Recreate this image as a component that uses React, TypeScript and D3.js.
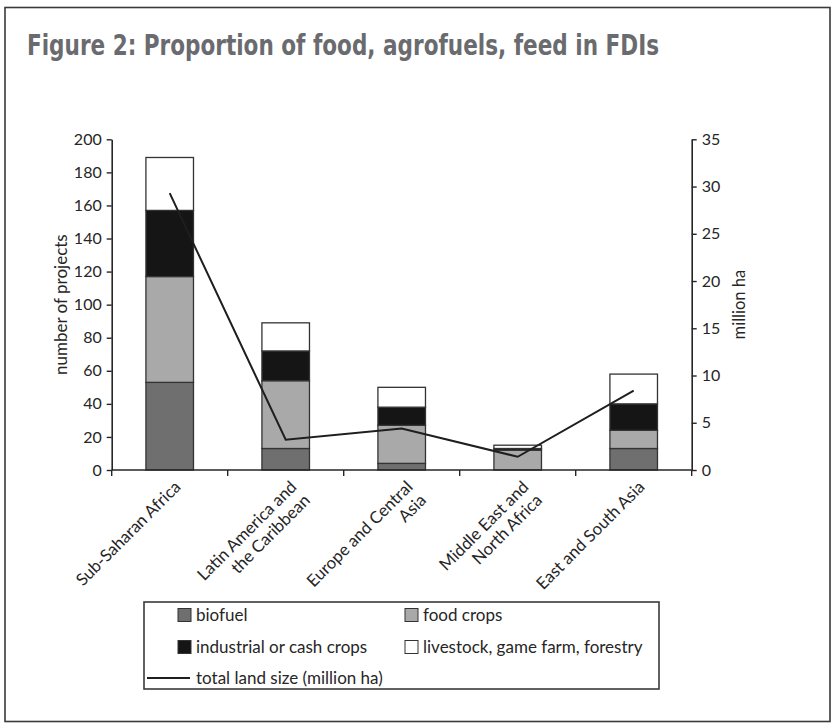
import React, { useEffect, useRef } from 'react';
import * as d3 from 'd3';

const categories = ['Sub-Saharan Africa', 'Latin America and the Caribbean', 'Europe and Central Asia', 'Middle East and North Africa', 'East and South Asia'];
const categoryLines = [['Sub-Saharan Africa'], ['Latin America and', 'the Caribbean'], ['Europe and Central', 'Asia'], ['Middle East and', 'North Africa'], ['East and South Asia']];

const biofuel = [53, 13, 4, 0, 13];
const foodCrops = [64, 41, 23, 12, 11];
const industrialCrops = [40, 18, 11, 1, 16];
const livestock = [32, 17, 12, 2, 18];
const landSize = [29.3, 3.2, 4.4, 1.4, 8.4];

const seriesKeys = ['biofuel', 'food', 'industrial', 'livestock'];
const seriesNames = ['biofuel', 'food crops', 'industrial or cash crops', 'livestock, game farm, forestry'];
const seriesColors = ['#6f6f6f', '#a9a9a9', '#151515', '#ffffff'];
const lineName = 'total land size (million ha)';

const leftTicks = [0, 20, 40, 60, 80, 100, 120, 140, 160, 180, 200];
const rightTicks = [0, 5, 10, 15, 20, 25, 30, 35];

const TITLE = 'Figure 2: Proportion of food, agrofuels, feed in FDIs';

const W = 831;
const H = 725;
const PLOT = { left: 111.7, top: 139.3, right: 691.7, bottom: 470 };
const FONT = "Lato, 'Open Sans', sans-serif";
const INK = '#262626';

const App = () => {
    const ref = useRef<SVGSVGElement>(null);

    useEffect(() => {
        plotChart();
    }, []);

    const plotChart = () => {
        const svg = d3.select(ref.current);
        svg.selectAll('*').remove();

        // page frame
        svg.append('rect')
            .attr('x', 5).attr('y', 7.5)
            .attr('width', 825).attr('height', 714)
            .attr('fill', '#fff')
            .attr('stroke', '#3a3a3a')
            .attr('stroke-width', 1.6);

        // title
        svg.append('text')
            .attr('x', 27).attr('y', 55)
            .attr('textLength', 632)
            .attr('lengthAdjust', 'spacingAndGlyphs')
            .style('font-family', "'Liberation Sans Narrow', 'DejaVu Sans Condensed', sans-serif")
            .style('font-weight', 'bold')
            .style('font-size', '29px')
            .attr('fill', '#6a6b6e')
            .text(TITLE);

        const table = categories.map((c, i) => ({
            category: c,
            biofuel: biofuel[i],
            food: foodCrops[i],
            industrial: industrialCrops[i],
            livestock: livestock[i],
        }));

        const x = d3.scaleBand()
            .domain(categories)
            .range([PLOT.left, PLOT.right])
            .paddingInner(0.59)
            .paddingOuter(0.295);

        const y = d3.scaleLinear().domain([0, 200]).range([PLOT.bottom, PLOT.top]);
        const y2 = d3.scaleLinear().domain([0, 35]).range([PLOT.bottom, PLOT.top]);

        const stacked = d3.stack<any>().keys(seriesKeys)(table);

        // bars
        const layers = svg.append('g')
            .selectAll('g')
            .data(stacked)
            .enter().append('g')
            .attr('fill', (d, i) => seriesColors[i]);

        layers.selectAll('rect')
            .data(d => d.filter(s => s[1] - s[0] > 0))
            .enter().append('rect')
            .attr('x', d => x(d.data.category)!)
            .attr('y', d => y(d[1]))
            .attr('width', x.bandwidth())
            .attr('height', d => y(d[0]) - y(d[1]))
            .attr('stroke', '#333')
            .attr('stroke-width', 1.3);

        // land size line
        const line = d3.line<number>()
            .x((d, i) => x(categories[i])! + x.bandwidth() / 2)
            .y(d => y2(d));

        svg.append('path')
            .datum(landSize)
            .attr('fill', 'none')
            .attr('stroke', '#1e1e1e')
            .attr('stroke-width', 2)
            .attr('d', line);

        // left axis
        const yAxis = d3.axisLeft(y).tickValues(leftTicks).tickSize(5).tickSizeOuter(0).tickPadding(5);
        const gl = svg.append('g')
            .attr('transform', `translate(${PLOT.left},0)`)
            .call(yAxis);

        // right axis
        const y2Axis = d3.axisRight(y2).tickValues(rightTicks).tickSize(5).tickSizeOuter(0).tickPadding(5);
        const gr = svg.append('g')
            .attr('transform', `translate(${PLOT.right},0)`)
            .call(y2Axis);

        [gl, gr].forEach(g => {
            g.attr('font-family', null).attr('font-size', null);
            g.select('.domain').attr('stroke', INK).attr('stroke-width', 1.6);
            g.selectAll('.tick line').attr('stroke', INK).attr('stroke-width', 1.4);
            g.selectAll('.tick text')
                .attr('fill', INK)
                .style('font-family', FONT)
                .style('font-size', '16px');
        });

        // category axis
        const boundaries = d3.range(categories.length + 1).map(i => PLOT.left + i * x.step());
        const gx = svg.append('g');
        gx.append('line')
            .attr('x1', PLOT.left).attr('x2', PLOT.right)
            .attr('y1', PLOT.bottom).attr('y2', PLOT.bottom)
            .attr('stroke', INK).attr('stroke-width', 1.6);
        gx.selectAll('.xtick')
            .data(boundaries)
            .enter().append('line')
            .attr('class', 'xtick')
            .attr('x1', d => d).attr('x2', d => d)
            .attr('y1', PLOT.bottom).attr('y2', PLOT.bottom + 6)
            .attr('stroke', INK).attr('stroke-width', 1.4);

        const labels = gx.selectAll('.xlabel')
            .data(categories)
            .enter().append('text')
            .attr('class', 'xlabel')
            .attr('transform', d => `translate(${x(d)! + x.bandwidth() / 2 + 12},${PLOT.bottom + 18}) rotate(-45)`)
            .attr('text-anchor', 'end')
            .attr('fill', INK)
            .style('font-family', FONT)
            .style('font-size', '16.8px');

        labels.each(function (d, i) {
            d3.select(this).selectAll('tspan')
                .data(categoryLines[i])
                .enter().append('tspan')
                .attr('x', 0)
                .attr('dy', (l, j) => (j === 0 ? 0 : 19))
                .text(l => l);
        });

        // axis titles
        svg.append('text')
            .attr('transform', `translate(67,${(PLOT.top + PLOT.bottom) / 2}) rotate(-90)`)
            .attr('text-anchor', 'middle')
            .attr('fill', INK)
            .style('font-family', FONT)
            .style('font-size', '17px')
            .text('number of projects');

        svg.append('text')
            .attr('transform', `translate(745,${(PLOT.top + PLOT.bottom) / 2}) rotate(-90)`)
            .attr('text-anchor', 'middle')
            .attr('fill', INK)
            .style('font-family', FONT)
            .style('font-size', '16.5px')
            .text('million ha');

        // legend
        const lg = svg.append('g');
        lg.append('rect')
            .attr('x', 144).attr('y', 602)
            .attr('width', 515).attr('height', 87)
            .attr('fill', 'none')
            .attr('stroke', '#3a3a3a')
            .attr('stroke-width', 1.6);

        const colX = [178, 405];
        const rowY = [615, 647];
        seriesNames.forEach((name, i) => {
            const cx = colX[i % 2];
            const cy = rowY[Math.floor(i / 2)];
            lg.append('rect')
                .attr('x', cx).attr('y', cy - 6.5)
                .attr('width', 13).attr('height', 13)
                .attr('fill', seriesColors[i])
                .attr('stroke', '#333')
                .attr('stroke-width', 1);
            lg.append('text')
                .attr('x', cx + 18).attr('y', cy)
                .attr('dy', '0.35em')
                .attr('fill', INK)
                .style('font-family', FONT)
                .style('font-size', '17px')
                .text(name);
        });

        lg.append('line')
            .attr('x1', 147).attr('x2', 190)
            .attr('y1', 678).attr('y2', 678)
            .attr('stroke', '#1e1e1e')
            .attr('stroke-width', 2);
        lg.append('text')
            .attr('x', 196).attr('y', 678)
            .attr('dy', '0.35em')
            .attr('fill', INK)
            .style('font-family', FONT)
            .style('font-size', '17px')
            .text(lineName);
    };

    return (
        <svg
            ref={ref}
            width={W}
            height={H}
            style={{ position: 'absolute', left: 0, top: 0, background: '#fff' }}
        />
    );
};

export default App;
